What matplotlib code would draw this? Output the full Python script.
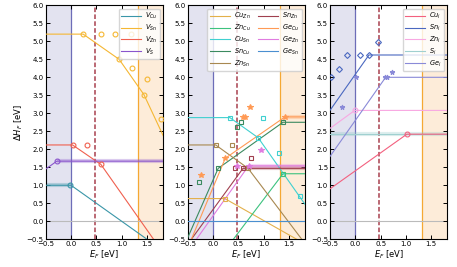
import matplotlib
matplotlib.use("Agg")
import matplotlib.pyplot as plt

# Fermi level window
x_min, x_max = -0.5, 1.82
vbm, cbm, ef_eq = 0.0, 1.32, 0.47

# --- vacancies ---
vcu_x = [-0.5, 0.0, 1.5];               vcu_y = [1.0, 1.0, -0.5]
vsn_x = [-0.5, 0.24, 0.95, 1.44, 1.82]; vsn_y = [5.2, 5.2, 4.5, 3.52, 2.38]
vzn_x = [-0.5, 0.03, 0.59, 1.63];       vzn_y = [2.12, 2.12, 1.58, -0.5]
vs_x = [-0.5, -0.28, 1.82];             vs_y = [1.45, 1.67, 1.67]

vcu_mx = [-0.02];       vcu_my = [1.0]
vsn_mx = [0.24, 0.59, 0.87, 1.18, 0.95, 1.2, 1.5, 1.44, 1.78]
vsn_my = [5.2, 5.2, 5.2, 5.2, 4.5, 4.25, 3.95, 3.52, 2.83]
vzn_mx = [0.03, 0.32, 0.59]; vzn_my = [2.12, 2.12, 1.58]
vs_mx = [-0.28];        vs_my = [1.67]

# --- antisites ---
cuzn_x = [-0.5, 0.23, 1.65];        cuzn_y = [0.63, 0.63, -0.5]
zncu_x = [0.4, 1.38, 1.82];         zncu_y = [-0.5, 1.32, 1.32]
cusn_x = [-0.5, 0.33, 0.89, 1.82];  cusn_y = [2.88, 2.88, 2.32, 0.46]
sncu_x = [-0.5, 0.10, 1.38, 1.82];  sncu_y = [-0.45, 1.47, 2.75, 2.75]
znsn_x = [-0.5, 0.05, 0.69, 1.75];  znsn_y = [2.12, 2.12, 1.47, -0.5]
snzn_x = [-0.43, 0.59, 1.82];       snzn_y = [-0.5, 1.47, 1.47]
gecu_x = [-0.43, 0.24, 1.42, 1.82]; gecu_y = [-0.5, 1.75, 2.9, 2.9]
gezn_x = [-0.33, 0.7, 1.82];        gezn_y = [-0.5, 1.54, 1.54]
gesn_x = [-0.5, 1.82];              gesn_y = [0.02, 0.02]

cuzn_mx = [0.23];  cuzn_my = [0.63]
zncu_mx = [1.38];  zncu_my = [1.32]
cusn_mx = [0.33, 0.89, 0.98, 1.30, 1.71]; cusn_my = [2.88, 2.32, 2.88, 1.91, 0.69]
sncu_mx = [0.10, -0.28, 0.48, 0.55, 1.38]; sncu_my = [1.47, 1.10, 2.63, 2.75, 2.75]
znsn_mx = [0.05, 0.38, 0.69]; znsn_my = [2.12, 2.12, 1.47]
snzn_mx = [0.43, 0.59, 0.75]; snzn_my = [1.47, 1.47, 1.77]
gecu_mx = [-0.23, 0.24, 0.59, 0.63, 0.73, 1.42]; gecu_my = [1.28, 1.75, 2.9, 2.9, 3.17, 2.9]
gezn_mx = [0.47, 0.71, 0.94]; gezn_my = [1.54, 1.54, 1.98]

# --- interstitials ---
cui_x = [-0.5, 1.02, 1.82];  cui_y = [0.9, 2.42, 2.42]
sni_x = [-0.5, 0.27, 1.82];  sni_y = [3.08, 4.62, 4.62]
zni_x = [-0.5, -0.01, 1.82]; zni_y = [2.58, 3.08, 3.08]
si_x = [-0.5, 1.82];         si_y = [2.43, 2.43]
gei_x = [-0.5, 0.6, 1.82];   gei_y = [1.8, 4.0, 4.0]

cui_mx = [1.02];  cui_my = [2.42]
zni_mx = [-0.01]; zni_my = [3.08]
sni_mx = [-0.47, -0.32, -0.17, 0.09, 0.27, 0.45]; sni_my = [4.0, 4.23, 4.62, 4.62, 4.62, 4.98]
gei_mx = [-0.26, 0.01, 0.59, 0.63, 0.73]; gei_my = [3.17, 4.0, 4.0, 4.0, 4.16]

plt.rcParams['font.family'] = 'DejaVu Sans'
plt.rcParams['mathtext.fontset'] = 'dejavusans'

fig = plt.figure(figsize=(4.57, 2.67), dpi=100)
lefts = [0.100, 0.411, 0.722]
axes = [fig.add_axes([l, 0.104, 0.257, 0.876]) for l in lefts]

leg_kw = dict(fontsize=4.8, handlelength=3, borderpad=0.35, labelspacing=0.25,
              handletextpad=0.6, framealpha=0.8, edgecolor='#cccccc')


def frame(ax):
    ax.axvspan(x_min, vbm, color='#e3e3f0', zorder=0, lw=0)
    ax.axvspan(cbm, x_max, color='#fdecd9', zorder=0, lw=0)
    ax.axvline(vbm, color='#6d6db8', lw=0.9, zorder=1)
    ax.axvline(cbm, color='#f5a833', lw=0.9, zorder=1)
    ax.axvline(ef_eq, color='#a8404e', lw=1.1, ls=(0, (3, 1.5)), zorder=1)
    ax.axhline(0, color='#bbbbbb', lw=0.8, zorder=1)
    ax.set_xlim(x_min, x_max)
    ax.set_ylim(-0.5, 6.0)
    ax.set_xticks([-0.5, 0.0, 0.5, 1.0, 1.5])
    ax.set_yticks([-0.5 + 0.5 * i for i in range(14)])
    ax.tick_params(direction='in', top=True, right=True, labelsize=5,
                   length=3, width=0.7, pad=1.5)
    for s in ax.spines.values():
        s.set_linewidth(0.8)
    ax.set_xlabel(r'$E_F$ [eV]', fontsize=6, labelpad=1)


def defect(ax, x, y, c, label, mx=None, my=None, m='o', filled=False, ms=3.5):
    ax.plot(x, y, color=c, lw=0.8, label=label, zorder=3)
    if mx:
        ax.plot(mx, my, ls='none', marker=m, ms=ms, mew=0.8, mec=c,
                mfc=c if filled else 'none', zorder=4)


def band(ax, x, y, c):
    ax.plot(x, y, color=c, lw=3, alpha=0.3, solid_capstyle='butt', zorder=2)


for ax in axes:
    frame(ax)

# panel 1: vacancies
ax = axes[0]
band(ax, [-0.5, 0.0], [1.0, 1.0], '#3a96a8')
band(ax, [-0.28, 1.82], [1.67, 1.67], '#8a55cc')
defect(ax, vcu_x, vcu_y, '#3a96a8', r'$V_{Cu}$', vcu_mx, vcu_my)
defect(ax, vsn_x, vsn_y, '#f5b733', r'$V_{Sn}$', vsn_mx, vsn_my)
defect(ax, vzn_x, vzn_y, '#f0604f', r'$V_{Zn}$', vzn_mx, vzn_my)
defect(ax, vs_x, vs_y, '#8a55cc', r'$V_S$', vs_mx, vs_my)
ax.set_ylabel(r'$\Delta H_F$ [eV]', fontsize=6, labelpad=1)
ax.legend(loc='upper right', **leg_kw)

# panel 2: antisites
ax = axes[1]
band(ax, [0.59, 1.82], [1.47, 1.47], '#a0404f')
band(ax, [0.7, 1.82], [1.54, 1.54], '#e07ce0')
band(ax, [1.42, 1.82], [2.9, 2.9], '#ff9a55')
defect(ax, cuzn_x, cuzn_y, '#e3b04a', r'$Cu_{Zn}$', cuzn_mx, cuzn_my, 's')
defect(ax, zncu_x, zncu_y, '#3cc27e', r'$Zn_{Cu}$', zncu_mx, zncu_my, 's')
defect(ax, cusn_x, cusn_y, '#40d0d0', r'$Cu_{Sn}$', cusn_mx, cusn_my, 's')
defect(ax, sncu_x, sncu_y, '#3b8a5f', r'$Sn_{Cu}$', sncu_mx, sncu_my, 's')
defect(ax, znsn_x, znsn_y, '#a88850', r'$Zn_{Sn}$', znsn_mx, znsn_my, 's')
defect(ax, snzn_x, snzn_y, '#a0404f', r'$Sn_{Zn}$', snzn_mx, snzn_my, 's')
defect(ax, gecu_x, gecu_y, '#ff9a55', r'$Ge_{Cu}$', gecu_mx, gecu_my, '*', True, 4)
defect(ax, gezn_x, gezn_y, '#e07ce0', r'$Ge_{Zn}$', gezn_mx, gezn_my, '*', True, 4)
defect(ax, gesn_x, gesn_y, '#4a8fd0', r'$Ge_{Sn}$')
ax.legend(loc='upper right', ncol=2, columnspacing=1.2, **leg_kw)

# panel 3: interstitials
ax = axes[2]
band(ax, [-0.5, 1.82], [2.43, 2.43], '#90c8c8')
defect(ax, si_x, si_y, '#a0d0d0', r'$S_i$')
defect(ax, cui_x, cui_y, '#f3607f', r'$Cu_i$', cui_mx, cui_my)
defect(ax, sni_x, sni_y, '#4a68c0', r'$Sn_i$', sni_mx, sni_my, 'D', ms=3)
defect(ax, zni_x, zni_y, '#f8a8e2', r'$Zn_i$', zni_mx, zni_my)
defect(ax, gei_x, gei_y, '#8a8ad8', r'$Ge_i$', gei_mx, gei_my, '*', True, 3.5)
h, l = ax.get_legend_handles_labels()
order = [1, 2, 3, 0, 4]
ax.legend([h[i] for i in order], [l[i] for i in order], loc='upper right',
          **leg_kw)

fig.savefig('out.png', dpi=100)
